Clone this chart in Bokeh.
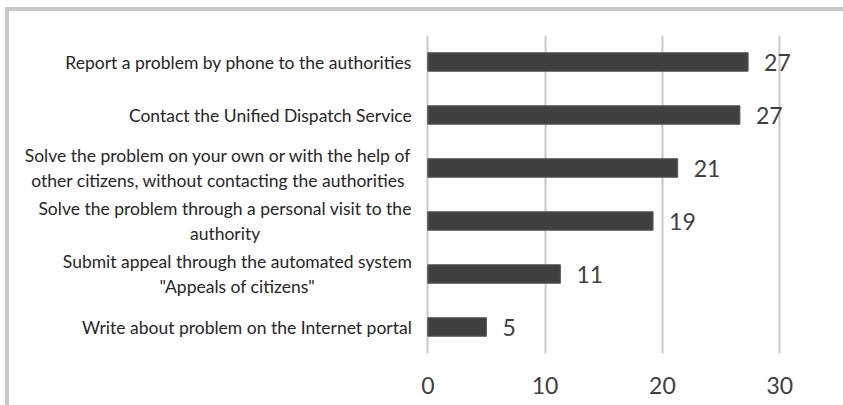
from bokeh.plotting import figure
from bokeh.models import ColumnDataSource, LabelSet, Label, FixedTicker, Range1d
from bokeh.core.properties import value
from bokeh.embed import file_html
from bokeh.resources import INLINE

categories = [
    "Report a problem by phone to the authorities",
    "Contact the Unified Dispatch Service",
    "Solve the problem on your own or with the help of\nother citizens, without contacting the authorities",
    "Solve the problem through a personal visit to the\nauthority",
    "Submit appeal through the automated system\n\"Appeals of citizens\"",
    "Write about problem on the Internet portal",
]
values = [27.3, 26.6, 21.3, 19.2, 11.3, 5.0]
x_ticks = [0, 10, 20, 30]

FONT = "Lato"
n = len(categories)
ypos = [n - i - 0.5 for i in range(n)]

src = ColumnDataSource(dict(
    y=ypos,
    val=values,
    lab=["{:.0f}".format(v) for v in values],
))

# frame spans the whole canvas width so that no text is clipped
p = figure(
    y_range=Range1d(0, n), x_range=Range1d(-35.65, 35.77),
    width=838, height=398,
    output_backend="svg", toolbar_location=None,
    min_border_left=0, min_border_right=0,
    min_border_top=24, min_border_bottom=56,
)
p.styles = {
    "border-top": "4px solid #c8c8c8",
    "border-left": "4px solid #c8c8c8",
    "margin-left": "5px",
    "margin-top": "7px",
}
p.outline_line_color = None
p.background_fill_color = "white"
p.border_fill_color = "white"

p.hbar(y="y", right="val", left=0, height=0.35, source=src,
       fill_color="#404040", line_color="#5a5a5a", line_width=1)

p.yaxis.visible = False
p.ygrid.grid_line_color = None
p.xgrid.grid_line_color = "#c8c8c8"
p.xgrid.grid_line_width = 2
p.xgrid.level = "underlay"
p.xaxis.ticker = FixedTicker(ticks=x_ticks)
p.xaxis.axis_line_color = None
p.xaxis.major_tick_line_color = None
p.xaxis.minor_tick_line_color = None
p.xaxis.major_label_text_font = FONT
p.xaxis.major_label_text_font_size = "23px"
p.xaxis.major_label_text_color = "#404040"
p.xaxis.major_label_standoff = 17

vals = LabelSet(x="val", y="y", text="lab", source=src,
                x_offset=16, text_align="left", text_baseline="middle",
                text_font=value(FONT), text_font_size=value("23px"),
                text_color="#404040")
p.add_layout(vals)

for c, yy in zip(categories, ypos):
    lbl = Label(x=0, y=yy, text=c, x_offset=-16, anchor="center_right",
                text_align="center", text_baseline="middle",
                text_font=FONT, text_font_size="17.5px", text_color="#262626",
                text_line_height=1.15)
    p.add_layout(lbl)

open("out.html", "w").write(file_html(p, INLINE))
